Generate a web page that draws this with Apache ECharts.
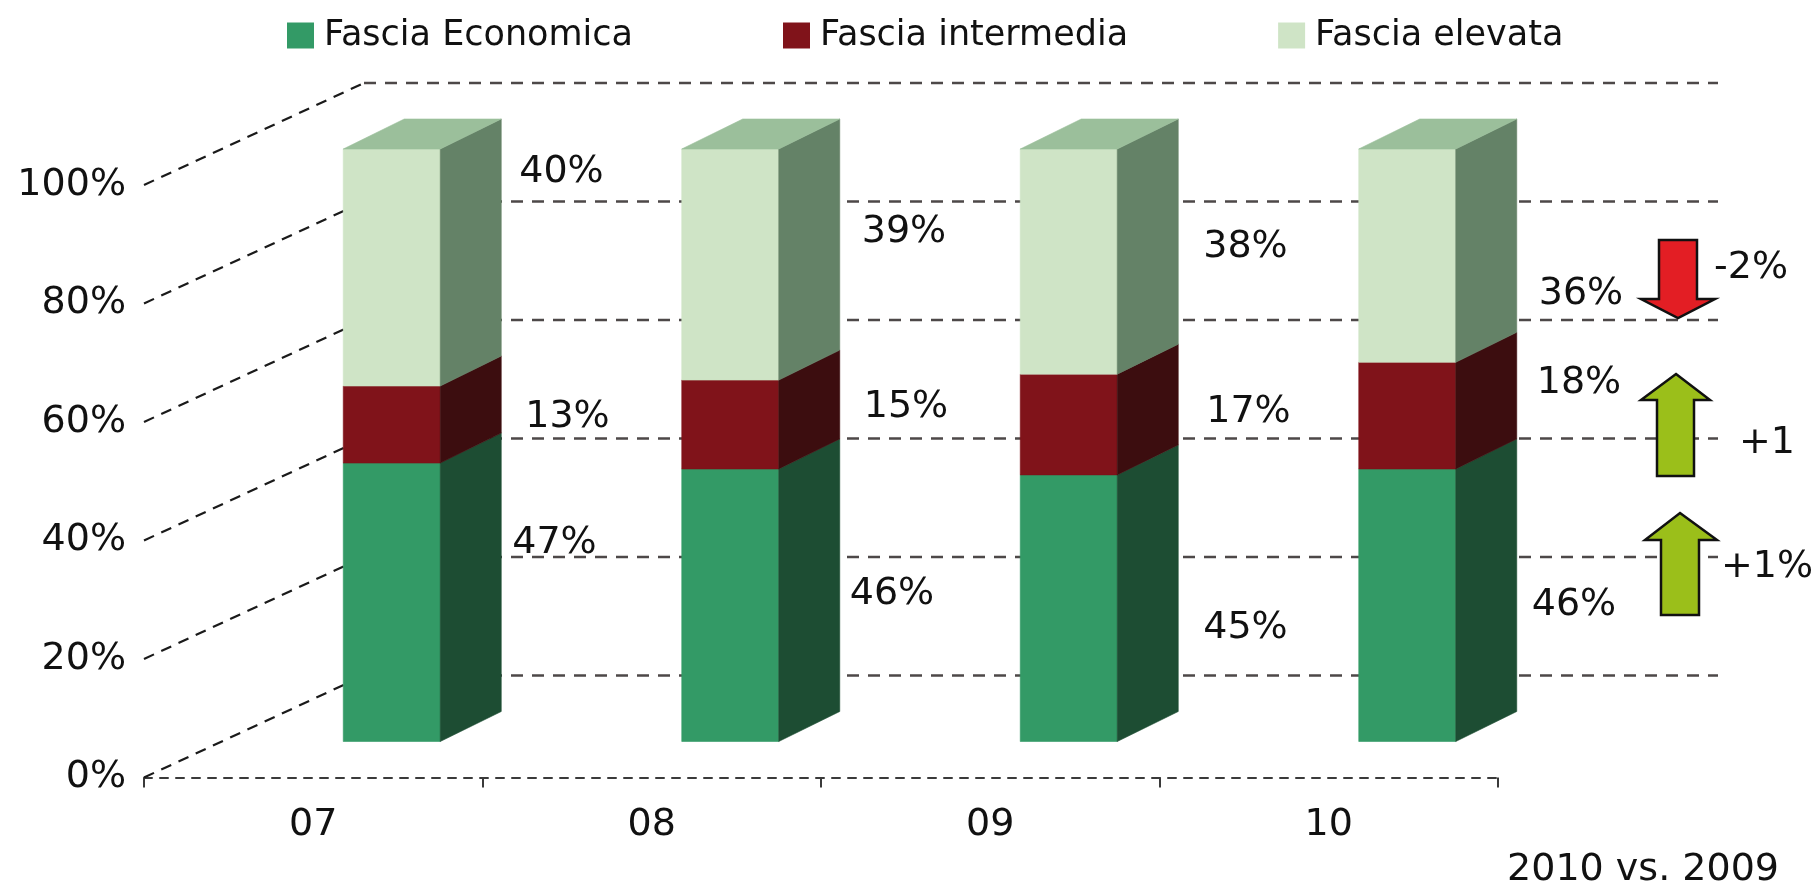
<!DOCTYPE html>
<html><head><meta charset="utf-8">
<script src="https://cdn.jsdelivr.net/npm/echarts@6/dist/echarts.min.js"></script>
<style>html,body{margin:0;padding:0;background:#fff}#c{width:1812px;height:889px}</style>
</head><body><div id="c"></div>
<script>
// ---- data ----
const categories = ['07', '08', '09', '10'];
const seriesNames = ['Fascia Economica', 'Fascia intermedia', 'Fascia elevata'];
const economica = [47, 46, 45, 46];
const intermedia = [13, 15, 17, 18];
const elevata = [40, 39, 38, 36];
const yTicks = [0, 20, 40, 60, 80, 100];
const changeLabels = ['-2%', '+1', '+1%'];
const footnote = '2010 vs. 2009';

// ---- layout / style ----
const FONT = 'DejaVu Sans';
const FS = 38;
const DEPTH = [220, 102];
const BAR_SHIFT = [78.5, 36];
const BAR_W = 97;
const BAR_SIDE = [61, 30];
const labelDx = [[13, 12, 27, 17], [26, 26, 30, 22], [20, 24, 27, 24]];
const labelDy = [[-59, -11, 20, 0], [-7, -17, -12, -33], [-95, -32, -14, 38]];
const frontColors = ['#339a66', '#80131a', '#cfe4c6'];
const sideColors = ['#1d4d33', '#3c0d0f', '#648267'];
const topColor = '#9bbf9b';
const values = [economica, intermedia, elevata];

function stackData(s) {
  return categories.map((c, i) => {
    let base = 0;
    for (let k = 0; k < s; k++) base += values[k][i];
    return [i, base, base + values[s][i], values[s][i]];
  });
}

function renderBar(s) {
  return function (params, api) {
    const i = api.value(0);
    const b = api.coord([i, api.value(1)]);
    const t = api.coord([i, api.value(2)]);
    const cx = b[0] + BAR_SHIFT[0];
    const x0 = cx - BAR_W / 2, x1 = cx + BAR_W / 2;
    const yb = b[1] - BAR_SHIFT[1], yt = t[1] - BAR_SHIFT[1];
    const dx = BAR_SIDE[0], dy = BAR_SIDE[1];
    const children = [
      { type: 'polygon', shape: { points: [[x0, yt], [x1, yt], [x1, yb], [x0, yb]] },
        style: { fill: frontColors[s], stroke: frontColors[s], lineWidth: 0.6 } },
      { type: 'polygon', shape: { points: [[x1, yt], [x1 + dx, yt - dy], [x1 + dx, yb - dy], [x1, yb]] },
        style: { fill: sideColors[s], stroke: sideColors[s], lineWidth: 0.6 } }
    ];
    if (s === values.length - 1) {
      children.push({ type: 'polygon', shape: { points: [[x0, yt], [x1, yt], [x1 + dx, yt - dy], [x0 + dx, yt - dy]] },
        style: { fill: topColor, stroke: topColor, lineWidth: 0.6 } });
    }
    children.push({
      type: 'text', x: x1 + dx + labelDx[s][i] - 2, y: (yb + yt) / 2 + labelDy[s][i],
      style: { text: api.value(3) + '%', fontSize: FS, fontFamily: FONT, fill: '#111', align: 'left', verticalAlign: 'middle' }
    });
    return { type: 'group', children };
  };
}

function renderGrid(params, api) {
  const cs = params.coordSys;
  const y = api.coord([0, api.value(1)])[1];
  return {
    type: 'group',
    children: [
      { type: 'line', shape: { x1: cs.x, y1: y, x2: cs.x + DEPTH[0], y2: y - DEPTH[1] },
        style: { stroke: '#1a1a1a', lineWidth: 2.2, lineDash: [11, 8] } },
      { type: 'line', shape: { x1: cs.x + DEPTH[0], y1: y - DEPTH[1], x2: cs.x + cs.width + DEPTH[0], y2: y - DEPTH[1] },
        style: { stroke: '#4d4848', lineWidth: 2.5, lineDash: [12, 9] } }
    ]
  };
}

const series = [{
  type: 'custom', name: 'grid', z: 1, clip: false, silent: true,
  encode: { x: 0, y: 1 },
  data: yTicks.map(v => [0, v]),
  renderItem: renderGrid
}];
seriesNames.forEach((n, s) => {
  series.push({
    type: 'custom', name: n, z: 2 + s, clip: false,
    itemStyle: { color: frontColors[s] },
    encode: { x: 0, y: [1, 2] },
    data: stackData(s),
    renderItem: renderBar(s)
  });
});

function arrow(points, fill) {
  return { type: 'polygon', shape: { points }, style: { fill, stroke: '#111', lineWidth: 2.5 }, z: 50 };
}
function txt(x, y, text, align) {
  return { type: 'text', x, y, z: 50, style: { text, fontSize: FS, fontFamily: FONT, fill: '#111', align: align || 'left', verticalAlign: 'middle' } };
}

const chart = echarts.init(document.getElementById('c'), null, { renderer: 'canvas' });
chart.setOption({
  animation: false,
  backgroundColor: '#fff',
  tooltip: { show: false },
  legend: {
    data: seriesNames, top: 13, left: 282, icon: 'rect',
    itemWidth: 27, itemHeight: 26, itemGap: 150,
    selectedMode: false,
    textStyle: { fontSize: 35, fontFamily: FONT, color: '#111', padding: [0, 0, 0, 5], lineHeight: 30 }
  },
  grid: { left: 144, right: 314, top: 185, bottom: 111.5, containLabel: false, outerBoundsMode: 'none' },
  xAxis: {
    type: 'category', data: categories, boundaryGap: true,
    axisLine: { show: true, lineStyle: { color: '#3a3a3a', width: 2, type: [8, 8] } },
    axisTick: { show: true, length: 10, lineStyle: { color: '#3a3a3a', width: 2 } },
    axisLabel: { fontSize: FS, fontFamily: FONT, color: '#111', margin: 29 },
    splitLine: { show: false }
  },
  yAxis: {
    type: 'value', min: 0, max: 100, interval: 20,
    axisLine: { show: false }, axisTick: { show: false }, splitLine: { show: false },
    axisLabel: { formatter: '{value}%', fontSize: FS, fontFamily: FONT, color: '#111', margin: 18 }
  },
  series,
  graphic: [
    arrow([[1659, 240], [1697, 240], [1697, 299], [1715, 299], [1678, 318], [1641, 299], [1659, 299]], '#e31e24'),
    arrow([[1676, 374], [1710, 400], [1694, 400], [1694, 476], [1657, 476], [1657, 400], [1641, 400]], '#9bbf1a'),
    arrow([[1680, 513], [1717, 540], [1699, 540], [1699, 615], [1661, 615], [1661, 540], [1645, 540]], '#9bbf1a'),
    txt(1714, 268, changeLabels[0]),
    txt(1739, 443, changeLabels[1]),
    txt(1721, 567, changeLabels[2]),
    txt(1779, 870, footnote, 'right')
  ]
});
</script></body></html>
